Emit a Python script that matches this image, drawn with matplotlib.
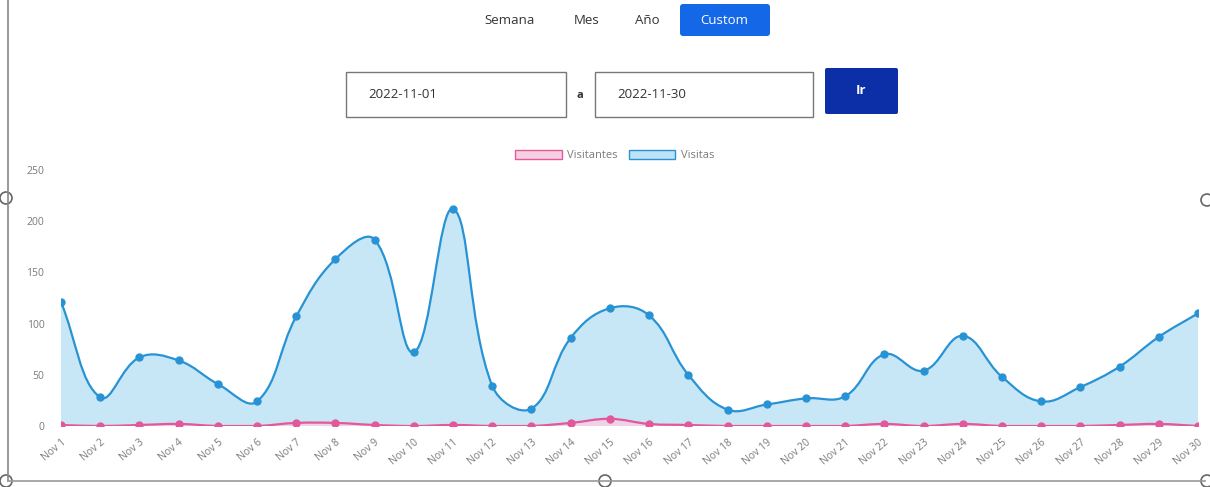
import matplotlib
matplotlib.use("Agg")
import matplotlib.pyplot as plt
import numpy as np
from matplotlib.path import Path
from matplotlib.patches import PathPatch, Patch, Rectangle, FancyBboxPatch, Circle

plt.rcParams["font.family"] = ["Open Sans", "DejaVu Sans"]

DAYS = [f"Nov {d}" for d in range(1, 31)]
VISITAS = [121, 28, 67, 64, 41, 24, 107, 163, 182, 72,
           212, 39, 17, 86, 115, 108, 50, 16, 21, 27,
           29, 70, 54, 88, 48, 24, 38, 58, 87, 110]
VISITANTES = [1, 0, 1, 2, 0, 0, 3, 3, 1, 0,
              1, 0, 0, 3, 7, 2, 1, 0, 0, 0,
              0, 2, 0, 2, 0, 0, 0, 1, 2, 0]
Y_TICKS = [0, 50, 100, 150, 200, 250]
RANGE_BUTTONS = ["Semana", "Mes", "Año", "Custom"]
DATE_FROM, DATE_TO = "2022-11-01", "2022-11-30"

BLUE = "#2893d4"
BLUE_FILL = "#bfe3f5"
PINK = "#e4579a"
PINK_FILL = "#f6cfe2"
GREY = "#7a7a7a"


def spline_path(y, ymax, tension=0.4, sx=39.2, sy=1.026):
    """Chart.js style bezier through the points (computed in pixel space)."""
    y = np.asarray(y, float)
    n = len(y)
    px = np.arange(n) * sx
    py = y * sy
    prev_cp = np.zeros((n, 2))
    next_cp = np.zeros((n, 2))
    for i in range(n):
        a, b = max(i - 1, 0), min(i + 1, n - 1)
        p0 = np.array([px[a], py[a]])
        p1 = np.array([px[i], py[i]])
        p2 = np.array([px[b], py[b]])
        d01 = np.hypot(*(p1 - p0))
        d12 = np.hypot(*(p2 - p1))
        tot = d01 + d12
        s01 = d01 / tot if tot > 0 else 0.0
        s12 = d12 / tot if tot > 0 else 0.0
        prev_cp[i] = p1 - tension * s01 * (p2 - p0)
        next_cp[i] = p1 + tension * s12 * (p2 - p0)
    for cp in (prev_cp, next_cp):
        cp[:, 0] = np.clip(cp[:, 0], 0, px[-1])
        cp[:, 1] = np.clip(cp[:, 1], 0, ymax * sy)
    verts = [(px[0], py[0])]
    codes = [Path.MOVETO]
    for i in range(n - 1):
        verts += [tuple(next_cp[i]), tuple(prev_cp[i + 1]), (px[i + 1], py[i + 1])]
        codes += [Path.CURVE4] * 3
    verts = np.array(verts) / np.array([sx, sy])
    return verts, codes


fig = plt.figure(figsize=(12.1, 4.87), dpi=100)
ax = fig.add_axes([61 / 1210, 61 / 487, 1137 / 1210, 256 / 487])

x = np.arange(len(DAYS))
for vals, line_c, fill_c, z in [(VISITAS, BLUE, BLUE_FILL, 2), (VISITANTES, PINK, PINK_FILL, 3)]:
    verts, codes = spline_path(vals, Y_TICKS[-1])
    fill_verts = np.vstack([verts, [[x[-1], 0], [x[0], 0], verts[0]]])
    fill_codes = codes + [Path.LINETO, Path.LINETO, Path.CLOSEPOLY]
    ax.add_patch(PathPatch(Path(fill_verts, fill_codes), facecolor=fill_c,
                           edgecolor="none", alpha=0.85, zorder=z))
    ax.add_patch(PathPatch(Path(verts, codes), facecolor="none",
                           edgecolor=line_c, lw=1.6, zorder=z + 0.1))
    ax.plot(x, vals, "o", color=line_c, ms=5, zorder=z + 0.2)

ax.set_xlim(0, len(DAYS) - 1)
ax.set_ylim(Y_TICKS[0], Y_TICKS[-1])
ax.set_yticks(Y_TICKS)
ax.set_xticks(x)
ax.set_xticklabels(DAYS, rotation=40, ha="right", rotation_mode="anchor")
ax.tick_params(length=0, labelsize=7.5, colors=GREY, pad=8)
ax.tick_params(axis="y", pad=12)
for s in ax.spines.values():
    s.set_visible(False)

handles = [Patch(facecolor=PINK_FILL, edgecolor=PINK, label="Visitantes"),
           Patch(facecolor=BLUE_FILL, edgecolor=BLUE, label="Visitas")]
fig.legend(handles=handles, loc="center", bbox_to_anchor=(0.508, 0.681), ncol=2,
           frameon=False, fontsize=8, handlelength=4.2, handleheight=0.9,
           handletextpad=0.5, columnspacing=1.0, labelcolor=GREY)

# page widgets above the chart, drawn in pixel space
ui = fig.add_axes([0, 0, 1, 1], zorder=-1)
ui.set_xlim(0, 1210)
ui.set_ylim(487, 0)
ui.axis("off")

btn_x = [510, 587, 647, 724]
for label, bx in zip(RANGE_BUTTONS, btn_x):
    if label == "Custom":
        ui.add_patch(FancyBboxPatch((680, 4), 90, 32, boxstyle="round,pad=0,rounding_size=3",
                                    facecolor="#1467e6", edgecolor="none"))
        ui.text(bx, 20, label, color="white", ha="center", va="center", fontsize=9.5)
    else:
        ui.text(bx, 20, label, color="#333333", ha="center", va="center", fontsize=9.5)

for x0, w, txt in [(346, 220, DATE_FROM), (595, 218, DATE_TO)]:
    ui.add_patch(Rectangle((x0, 72), w, 45, facecolor="white", edgecolor="#777777", lw=1.0))
    ui.text(x0 + 22, 95, txt, color="#333333", ha="left", va="center", fontsize=9.5)
ui.text(580, 96, "a", color="#333333", ha="center", va="center", fontsize=8, fontweight="bold")
ui.add_patch(FancyBboxPatch((825, 68), 73, 46, boxstyle="round,pad=0,rounding_size=2",
                            facecolor="#0c2ea6", edgecolor="none"))
ui.text(861, 91, "Ir", color="white", ha="center", va="center", fontsize=9.5, fontweight="bold")

# selection frame around the embedded image
ui.plot([8, 8], [0, 481], color="#888888", lw=1.2)
ui.plot([8, 1205], [481, 481], color="#999999", lw=1.2)
for hx, hy in [(6, 198), (1207, 200), (6, 481), (605, 481), (1207, 481)]:
    ui.add_patch(Circle((hx, hy), 6, facecolor="white", edgecolor="#666666", lw=1.2))

fig.savefig("out.png", dpi=100)
